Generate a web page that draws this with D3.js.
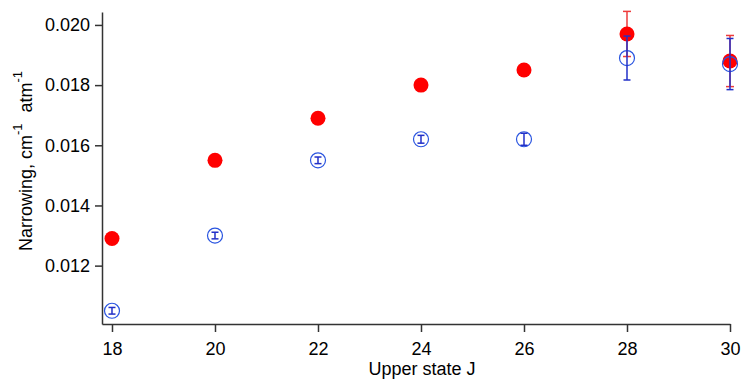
<!DOCTYPE html>
<html>
<head>
<meta charset="utf-8">
<script src="https://cdn.jsdelivr.net/npm/d3@7"></script>
<style>
  html, body { margin: 0; padding: 0; background: #fff; }
  svg { display: block; font-family: "Liberation Sans", Arial, sans-serif; }
</style>
</head>
<body>
<svg id="chart" width="742" height="379"></svg>
<script>
// Upper state J values
const upperJ = [18, 20, 22, 24, 26, 28, 30];
// Narrowing coefficients (cm^-1 atm^-1), filled red series
const redValues = [0.0129, 0.0155, 0.0169, 0.0180, 0.0185, 0.0197, 0.0188];
const redErrors = [0.0001, 0.0001, 0.0001, 0.0001, 0.0001, 0.00075, 0.00085];
// Open blue series
const blueValues = [0.0105, 0.0130, 0.0155, 0.0162, 0.0162, 0.0189, 0.0187];
const blueErrors = [0.00011, 0.00011, 0.00011, 0.00013, 0.0002, 0.00073, 0.00085];
// Axis ticks
const xTicks = [18, 20, 22, 24, 26, 28, 30];
const yTicks = [0.012, 0.014, 0.016, 0.018, 0.020];

const svg = d3.select("#chart");

const x = d3.scaleLinear().domain([17.806, 30]).range([102, 730]);
const y = d3.scaleLinear().domain([0.01006, 0.02043]).range([324, 12]);

const axisColor = "#333";
const fontSize = "18px";

// Axes
const gx = svg.append("g")
  .attr("transform", "translate(0,324)")
  .call(d3.axisBottom(x).tickValues(xTicks).tickSize(8).tickSizeOuter(0).tickPadding(10)
    .tickFormat(d3.format("d")));
const gy = svg.append("g")
  .attr("transform", "translate(102,0)")
  .call(d3.axisLeft(y).tickValues(yTicks).tickSize(7).tickSizeOuter(0).tickPadding(5)
    .tickFormat(d3.format(".3f")));

[gx, gy].forEach(g => {
  g.select(".domain").attr("stroke", axisColor).attr("stroke-width", 1.5);
  g.selectAll(".tick line").attr("stroke", axisColor).attr("stroke-width", 1.5);
  g.selectAll(".tick text").attr("fill", "#000").style("font-size", fontSize)
    .style("font-family", "'Liberation Sans', Arial, sans-serif");
});

// Axis titles
svg.append("text")
  .attr("x", 422).attr("y", 375)
  .attr("text-anchor", "middle")
  .style("font-size", fontSize)
  .text("Upper state J");

const yt = svg.append("text")
  .attr("transform", "translate(32,161) rotate(-90)")
  .attr("text-anchor", "middle")
  .style("font-size", fontSize);
yt.append("tspan").text("Narrowing, cm");
yt.append("tspan").attr("dy", -10).style("font-size", "13px").text("-1");
yt.append("tspan").attr("dy", 10).attr("dx", 11).text("atm");
yt.append("tspan").attr("dy", -10).style("font-size", "13px").text("-1");

const data = upperJ.map((j, i) => ({
  j, r: redValues[i], re: redErrors[i], b: blueValues[i], be: blueErrors[i]
}));

function errorBars(sel, valKey, errKey, color, capHalf) {
  const g = sel.selectAll(null).data(data).enter().append("g")
    .attr("stroke", color).attr("stroke-width", 1.5);
  g.append("line")
    .attr("x1", d => x(d.j)).attr("x2", d => x(d.j))
    .attr("y1", d => y(d[valKey] + d[errKey])).attr("y2", d => y(d[valKey] - d[errKey]));
  g.append("line")
    .attr("x1", d => x(d.j) - capHalf).attr("x2", d => x(d.j) + capHalf)
    .attr("y1", d => y(d[valKey] + d[errKey])).attr("y2", d => y(d[valKey] + d[errKey]));
  g.append("line")
    .attr("x1", d => x(d.j) - capHalf).attr("x2", d => x(d.j) + capHalf)
    .attr("y1", d => y(d[valKey] - d[errKey])).attr("y2", d => y(d[valKey] - d[errKey]));
}

const plot = svg.append("g");

// Red error bars sit beneath the filled red markers
errorBars(plot, "r", "re", "#ee3b3b", 4);
plot.selectAll(".red").data(data).enter().append("circle")
  .attr("class", "red")
  .attr("cx", d => x(d.j)).attr("cy", d => y(d.r)).attr("r", 7.5)
  .attr("fill", "#ff0000");

// Blue open markers with error bars on top
plot.selectAll(".blue").data(data).enter().append("circle")
  .attr("class", "blue")
  .attr("cx", d => x(d.j)).attr("cy", d => y(d.b)).attr("r", 7.5)
  .attr("fill", "none").attr("stroke", "#2a55e0").attr("stroke-width", 1.2);
errorBars(plot, "b", "be", "#2230c8", 3.5);
</script>
</body>
</html>
